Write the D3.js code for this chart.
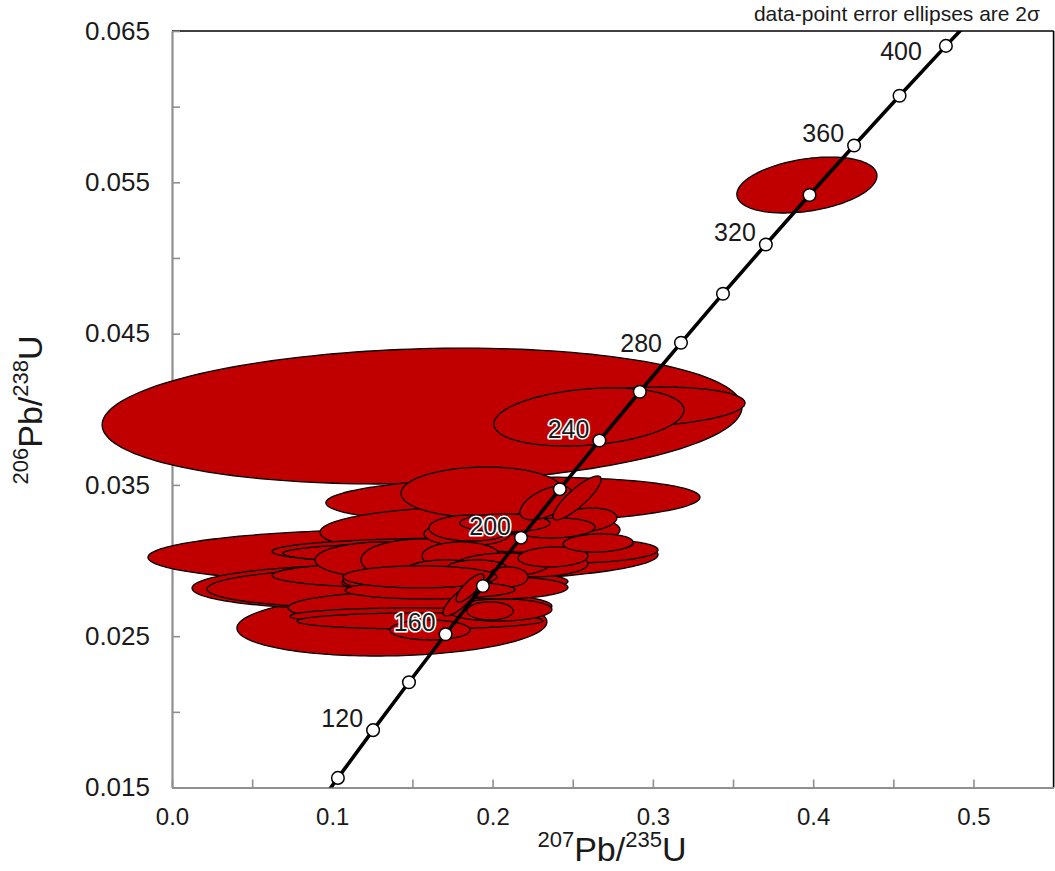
<!DOCTYPE html>
<html>
<head>
<meta charset="utf-8">
<script src="https://cdn.jsdelivr.net/npm/d3@7"></script>
<style>
  body { margin: 0; background: #fff; }
  svg { display: block; }
  text { font-family: "Liberation Sans", Arial, Helvetica, sans-serif; }
</style>
</head>
<body>
<svg id="chart" width="1055" height="871"></svg>
<script>
// U-Pb analyses: 207Pb/235U and 206Pb/238U ratios with 2-sigma errors and error correlation
const ratio75 = [0.1560, 0.2920, 0.2601, 0.3961, 0.1441, 0.1372, 0.1179, 0.1273, 0.2127, 0.1859,
                 0.1797, 0.1834, 0.1522, 0.1547, 0.1485, 0.1547, 0.1934, 0.1329, 0.1560, 0.1765,
                 0.2545, 0.2620, 0.2171, 0.2190, 0.2221, 0.1840, 0.1803, 0.2046, 0.2283, 0.2059,
                 0.2377, 0.1709, 0.1329, 0.1903, 0.2096, 0.2046, 0.1984, 0.1610, 0.1865, 0.2576,
                 0.2658, 0.1610, 0.1547, 0.2389, 0.2077, 0.2333, 0.2527, 0.1797, 0.1859];
const err75   = [0.1996, 0.0655, 0.0593, 0.0437, 0.1591, 0.0967, 0.1054, 0.1054, 0.1167, 0.0936,
                 0.1173, 0.1142, 0.0898, 0.0823, 0.0749, 0.0767, 0.0505, 0.0437, 0.0381, 0.0705,
                 0.0487, 0.0256, 0.0437, 0.0406, 0.0362, 0.0268, 0.0243, 0.0424, 0.0312, 0.0299,
                 0.0218, 0.0250, 0.0262, 0.0187, 0.0125, 0.0324, 0.0144, 0.0250, 0.0262, 0.0200,
                 0.0218, 0.0530, 0.0480, 0.0250, 0.0281, 0.0162, 0.0150, 0.0106, 0.0087];
const ratio68  = [0.03955, 0.04015, 0.03949, 0.05482, 0.03030, 0.02574, 0.02825, 0.02819, 0.03400, 0.03195,
                 0.03063, 0.03050, 0.02905, 0.02693, 0.02634, 0.02601, 0.03453, 0.03004, 0.03004, 0.02858,
                 0.03063, 0.03110, 0.03096, 0.03110, 0.03116, 0.03176, 0.03030, 0.02819, 0.02971, 0.02971,
                 0.03024, 0.02938, 0.02872, 0.02951, 0.02892, 0.02673, 0.02667, 0.02541, 0.03215, 0.03268,
                 0.03116, 0.02806, 0.02892, 0.03215, 0.03248, 0.03381, 0.03414, 0.02740, 0.02819];
const err68    = [0.00449, 0.00132, 0.00192, 0.00185, 0.00178, 0.00205, 0.00145, 0.00132, 0.00152, 0.00159,
                 0.00086, 0.00073, 0.00086, 0.00106, 0.00053, 0.00053, 0.00165, 0.00119, 0.00139, 0.00079,
                 0.00079, 0.00046, 0.00086, 0.00073, 0.00060, 0.00079, 0.00093, 0.00073, 0.00079, 0.00079,
                 0.00066, 0.00066, 0.00066, 0.00053, 0.00066, 0.00073, 0.00060, 0.00066, 0.00086, 0.00079,
                 0.00060, 0.00060, 0.00073, 0.00066, 0.00060, 0.00112, 0.00145, 0.00106, 0.00093];
const rho      = [0.13, 0.20, 0.24, 0.33, 0.05, 0.10, 0.05, 0.05, 0.12, 0.05,
                 0.03, 0.03, 0.03, 0.05, 0.03, 0.03, 0.05, 0.00, 0.00, 0.05,
                 0.10, 0.00, 0.10, 0.10, 0.10, 0.00, 0.00, 0.05, 0.10, 0.10,
                 0.10, 0.00, 0.00, 0.00, 0.00, 0.05, 0.00, 0.00, 0.00, 0.20,
                 0.10, 0.03, 0.00, 0.10, 0.00, 0.55, 0.85, 0.80, 0.80];

// Concordia curve: ages (Ma) and the matching 207Pb/235U, 206Pb/238U ratios
const concordiaAge = [90, 100, 120, 140, 160, 180, 200, 220, 240, 260, 280, 300, 320, 340, 360, 380, 400, 420];
const concordia75  = [0.092683, 0.103498, 0.125449, 0.147837, 0.170671, 0.193957, 0.217708, 0.241931, 0.266635,
                      0.291831, 0.317528, 0.343737, 0.370467, 0.397729, 0.425534, 0.453891, 0.482811, 0.512300];
const concordia68  = [0.014059, 0.015633, 0.018789, 0.021955, 0.025131, 0.028316, 0.031511, 0.034716, 0.037932,
                      0.041157, 0.044392, 0.047637, 0.050892, 0.054158, 0.057433, 0.060719, 0.064016, 0.067322];
const markerAges   = [100, 120, 140, 160, 180, 200, 220, 240, 260, 280, 300, 320, 340, 360, 380, 400];
const labelAges    = [120, 160, 200, 240, 280, 320, 360, 400];

// Axis ticks
const xTicks      = [0, 0.05, 0.1, 0.15, 0.2, 0.25, 0.3, 0.35, 0.4, 0.45, 0.5];
const xTickLabels = ["0.0", "", "0.1", "", "0.2", "", "0.3", "", "0.4", "", "0.5"];
const yTicks      = [0.015, 0.02, 0.025, 0.03, 0.035, 0.04, 0.045, 0.05, 0.055, 0.06, 0.065];
const yTickLabels = ["0.015", "", "0.025", "", "0.035", "", "0.045", "", "0.055", "", "0.065"];

const svg = d3.select("#chart");
const W = 1055, H = 871;
const plot = { left: 172, right: 1053.6, top: 31, bottom: 787.5 };

const x = d3.scaleLinear().domain([0, 0.55]).range([plot.left, plot.right]);
const y = d3.scaleLinear().domain([0.015, 0.065]).range([plot.bottom, plot.top]);

svg.append("rect").attr("width", W).attr("height", H).attr("fill", "#fff");

svg.append("defs").append("clipPath").attr("id", "plotClip")
  .append("rect")
  .attr("x", plot.left).attr("y", plot.top)
  .attr("width", plot.right - plot.left).attr("height", plot.bottom - plot.top);

// top and right frame
svg.append("line")
  .attr("x1", plot.left).attr("x2", plot.right).attr("y1", plot.top).attr("y2", plot.top)
  .attr("stroke", "#000").attr("stroke-width", 1.6);
svg.append("line")
  .attr("x1", plot.right).attr("x2", plot.right).attr("y1", plot.top).attr("y2", plot.bottom)
  .attr("stroke", "#000").attr("stroke-width", 1.6);

// axes with inward ticks
const axisColor = "#8f8f8f";
const xAxis = d3.axisBottom(x).tickValues(xTicks)
  .tickFormat((d, i) => xTickLabels[i]).tickSizeInner(-8).tickSizeOuter(0).tickPadding(20);
const yAxis = d3.axisLeft(y).tickValues(yTicks)
  .tickFormat((d, i) => yTickLabels[i]).tickSizeInner(-8).tickSizeOuter(0).tickPadding(22);

const gx = svg.append("g").attr("transform", `translate(0,${plot.bottom})`).call(xAxis);
const gy = svg.append("g").attr("transform", `translate(${plot.left},0)`).call(yAxis);
[gx, gy].forEach(g => {
  g.select(".domain").attr("stroke", axisColor).attr("stroke-width", 2.2);
  g.selectAll(".tick line").attr("stroke", axisColor).attr("stroke-width", 1.6);
  g.selectAll(".tick text").attr("fill", "#1a1a1a")
    .style("font-family", '"Liberation Sans", Arial, sans-serif');
});
gx.selectAll(".tick text").style("font-size", "24px");
gy.selectAll(".tick text").style("font-size", "26px");

// error ellipses (2 sigma), built from the covariance via its Cholesky factor
const ellipseLine = d3.line().curve(d3.curveLinearClosed);
const angles = d3.range(0, 180).map(k => k * 2 * Math.PI / 180);
const ellipses = ratio75.map((cx, i) => {
  const sx = err75[i], sy = err68[i], r = rho[i];
  const q = Math.sqrt(1 - r * r);
  return angles.map(t => [
    x(cx + sx * Math.cos(t)),
    y(ratio68[i] + sy * (r * Math.cos(t) + q * Math.sin(t)))
  ]);
});
svg.append("g").attr("class", "ellipses")
  .selectAll("path").data(ellipses).join("path")
  .attr("d", ellipseLine)
  .attr("fill", "#c00000")
  .attr("stroke", "#000")
  .attr("stroke-width", 1.3);

// concordia curve
const concordia = concordiaAge.map((a, i) => ({ age: a, x: concordia75[i], y: concordia68[i] }));
const gc = svg.append("g").attr("clip-path", "url(#plotClip)");
gc.append("path")
  .datum(concordia)
  .attr("d", d3.line().x(d => x(d.x)).y(d => y(d.y)).curve(d3.curveMonotoneX))
  .attr("fill", "none").attr("stroke", "#000").attr("stroke-width", 3.6);

const markers = concordia.filter(d => markerAges.includes(d.age));
gc.selectAll("circle").data(markers).join("circle")
  .attr("cx", d => x(d.x)).attr("cy", d => y(d.y)).attr("r", 6.3)
  .attr("fill", "#fff").attr("stroke", "#000").attr("stroke-width", 1.5);

// age labels
const labelNudge = { 280: [-19, 9], 400: [-24, 14] };
svg.append("g").selectAll("text").data(concordia.filter(d => labelAges.includes(d.age))).join("text")
  .attr("x", d => x(d.x) + (labelNudge[d.age] ? labelNudge[d.age][0] : -10))
  .attr("y", d => y(d.y) + (labelNudge[d.age] ? labelNudge[d.age][1] : -3))
  .attr("text-anchor", "end")
  .style("font-size", "25px")
  .attr("fill", "#1a1a1a")
  .attr("stroke", "#fff").attr("stroke-width", 3.2).attr("paint-order", "stroke")
  .attr("stroke-linejoin", "round")
  .text(d => d.age);

// axis titles
const xt = svg.append("text")
  .attr("x", 612).attr("y", 861).attr("text-anchor", "middle").attr("fill", "#1a1a1a");
xt.append("tspan").text("207").style("font-size", "22px").attr("dy", -14);
xt.append("tspan").text("Pb/").style("font-size", "34px").attr("dy", 14);
xt.append("tspan").text("235").style("font-size", "22px").attr("dy", -14);
xt.append("tspan").text("U").style("font-size", "34px").attr("dy", 14);

const yt = svg.append("text")
  .attr("transform", "translate(42,410) rotate(-90)").attr("text-anchor", "middle").attr("fill", "#1a1a1a");
yt.append("tspan").text("206").style("font-size", "22px").attr("dy", -14);
yt.append("tspan").text("Pb/").style("font-size", "34px").attr("dy", 14);
yt.append("tspan").text("238").style("font-size", "22px").attr("dy", -14);
yt.append("tspan").text("U").style("font-size", "34px").attr("dy", 14);

// note
svg.append("text")
  .attr("x", 1040).attr("y", 21).attr("text-anchor", "end")
  .style("font-size", "21px").attr("fill", "#1a1a1a")
  .text("data-point error ellipses are 2\u03c3");
</script>
</body>
</html>
